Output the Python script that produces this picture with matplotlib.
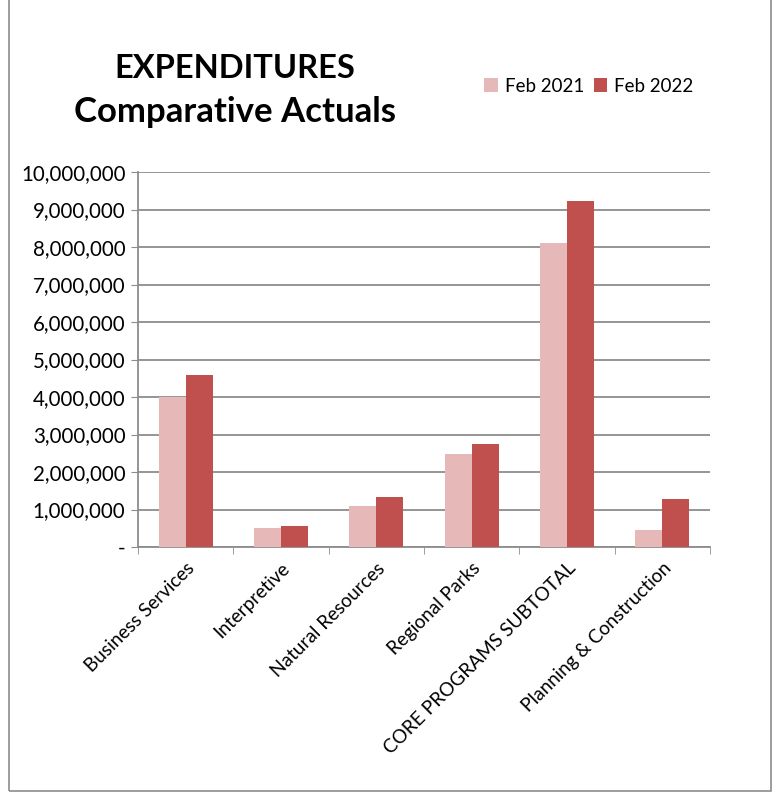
import numpy as np
import matplotlib.pyplot as plt
from matplotlib.patches import Rectangle
from matplotlib.ticker import FuncFormatter

categories = ['Business Services', 'Interpretive', 'Natural Resources',
              'Regional Parks', 'CORE PROGRAMS SUBTOTAL', 'Planning & Construction']
feb_2021 = [4010000, 520000, 1090000, 2490000, 8100000, 450000]
feb_2022 = [4580000, 550000, 1330000, 2760000, 9230000, 1270000]
series_labels = ['Feb 2021', 'Feb 2022']
colors = ['#e6b9b8', '#c0504d']

plt.rcParams['font.family'] = ['Lato', 'DejaVu Sans']

W, H = 776, 797
fig = plt.figure(figsize=(W/100, H/100), dpi=100)
ax = fig.add_axes([138/W, 1-547/H, (710-138)/W, (547-172)/H])

x = np.arange(len(categories))
bw = 0.283
ax.bar(x - bw/2, feb_2021, bw, color=colors[0], label=series_labels[0], zorder=3)
ax.bar(x + bw/2, feb_2022, bw, color=colors[1], label=series_labels[1], zorder=3)

ax.set_xlim(-0.5, len(categories) - 0.5)
ax.set_ylim(0, 10000000)
ax.set_yticks(np.arange(0, 10000001, 1000000))
ax.yaxis.set_major_formatter(FuncFormatter(lambda v, p: '-' if v == 0 else f'{int(v):,}'))
ax.grid(axis='y', color='#8c8c8c', linewidth=1.3, zorder=0)

ax.set_xticks(x)
ax.set_xticklabels(categories, rotation=45, ha='right', rotation_mode='anchor', fontsize=13.7)
ax.tick_params(axis='x', length=0, pad=9)
ax.set_xticks(np.arange(-0.5, len(categories)), minor=True)
ax.tick_params(axis='x', which='minor', length=5, color='#8c8c8c', direction='out')
ax.tick_params(axis='y', labelsize=14.8, length=5, color='#8c8c8c', direction='out', pad=4)

for s in ['top', 'right']:
    ax.spines[s].set_visible(False)
for s in ['left', 'bottom']:
    ax.spines[s].set_color('#8c8c8c')
    ax.spines[s].set_linewidth(1.3)

fig.text(235/W, 1-68/H, 'EXPENDITURES', ha='center', va='center', fontsize=23.5, fontweight='bold')
fig.text(235/W, 1-112/H, 'Comparative Actuals', ha='center', va='center', fontsize=25, fontweight='bold')

fig.legend(loc='center', bbox_to_anchor=(589/W, 1-86/H), ncol=2, frameon=False,
           fontsize=13.5, handlelength=0.7, handleheight=0.7, columnspacing=0.5, handletextpad=0.4)

fig.patches.append(Rectangle((9/W, 1-791/H), (771-9)/W, (791+10)/H, transform=fig.transFigure,
                             fill=False, edgecolor='#8c8c8c', linewidth=1.2))

fig.savefig('out.png', dpi=100)
